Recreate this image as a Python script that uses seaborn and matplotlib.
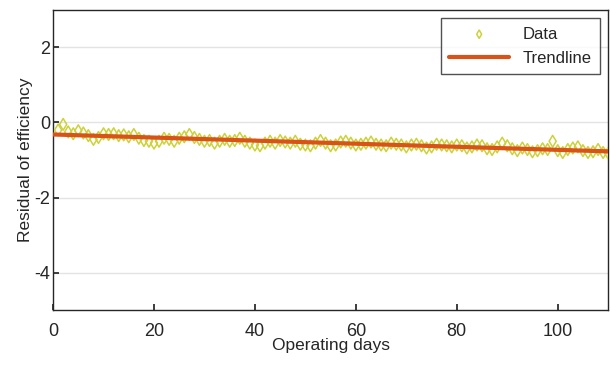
import numpy as np
import pandas as pd
import matplotlib
matplotlib.use("Agg")
import matplotlib.pyplot as plt
import seaborn as sns

days = list(range(1, 111))
residual = [
    -0.20, -0.05, -0.25, -0.30, -0.22, -0.28, -0.35, -0.45, -0.40, -0.30,
    -0.32, -0.30, -0.35, -0.33, -0.38, -0.32, -0.42, -0.48, -0.50, -0.55,
    -0.50, -0.42, -0.45, -0.50, -0.42, -0.38, -0.32, -0.40, -0.45, -0.50,
    -0.48, -0.55, -0.50, -0.45, -0.50, -0.48, -0.42, -0.50, -0.55, -0.60,
    -0.62, -0.55, -0.50, -0.55, -0.48, -0.52, -0.55, -0.50, -0.58, -0.60,
    -0.62, -0.55, -0.48, -0.55, -0.62, -0.60, -0.52, -0.50, -0.55, -0.60,
    -0.58, -0.55, -0.52, -0.58, -0.60, -0.62, -0.55, -0.58, -0.60, -0.65,
    -0.60, -0.58, -0.62, -0.68, -0.65, -0.58, -0.60, -0.62, -0.65, -0.60,
    -0.62, -0.68, -0.65, -0.60, -0.62, -0.70, -0.72, -0.65, -0.55, -0.62,
    -0.70, -0.75, -0.68, -0.72, -0.78, -0.75, -0.70, -0.72, -0.50, -0.75,
    -0.80, -0.72, -0.68, -0.65, -0.75, -0.80, -0.78, -0.72, -0.80, -0.82,
]
x_ticks = [0, 20, 40, 60, 80, 100]
y_ticks = [2, 0, -2, -4]

sns.set_theme(style="white")
plt.rcParams['font.family'] = ['Liberation Sans', 'DejaVu Sans']
plt.rcParams['axes.unicode_minus'] = False

df = pd.DataFrame({"day": days, "res": residual})
slope, intercept = np.polyfit(df["day"], df["res"], 1)
fit_x = np.array([0, 110])
fit = pd.DataFrame({"day": fit_x, "res": intercept + slope * fit_x})

fig = plt.figure(figsize=(6.10, 3.67), dpi=100)
ax = fig.add_axes([0.087, 0.155, 0.910, 0.818])

sns.scatterplot(data=df, x="day", y="res", ax=ax, marker="d", s=36,
                facecolors="none", edgecolor="#cdd13a", linewidth=1.1,
                label="Data", zorder=3)
sns.lineplot(data=fit, x="day", y="res", ax=ax, color="#d95319",
             linewidth=3, label="Trendline", zorder=4)

ax.set_xlim(0, 110)
ax.set_ylim(-5, 3)
ax.set_xticks(x_ticks)
ax.set_yticks(y_ticks)
ax.yaxis.grid(True, color="#e3e3e3", linewidth=1)
ax.set_axisbelow(True)
for sp in ax.spines.values():
    sp.set_color("#262626")
    sp.set_linewidth(1)
ax.tick_params(axis="x", pad=9)
ax.tick_params(axis="y", pad=2)
ax.tick_params(axis="both", labelsize=13, colors="#262626", direction="in",
               length=4, left=True, bottom=True)
ax.set_xlabel("Operating days", fontsize=12.5, labelpad=-1, color="#262626")
ax.set_ylabel("Residual of efficiency", fontsize=12.5, labelpad=1, color="#262626")

leg = ax.legend(loc="upper right", fontsize=12, frameon=True, fancybox=False,
                edgecolor="#262626", borderaxespad=0.5, handlelength=3.6,
                markerscale=0.7, labelspacing=0.55, borderpad=0.5)
leg.get_frame().set_linewidth(1)

fig.savefig("out.png", dpi=100)
